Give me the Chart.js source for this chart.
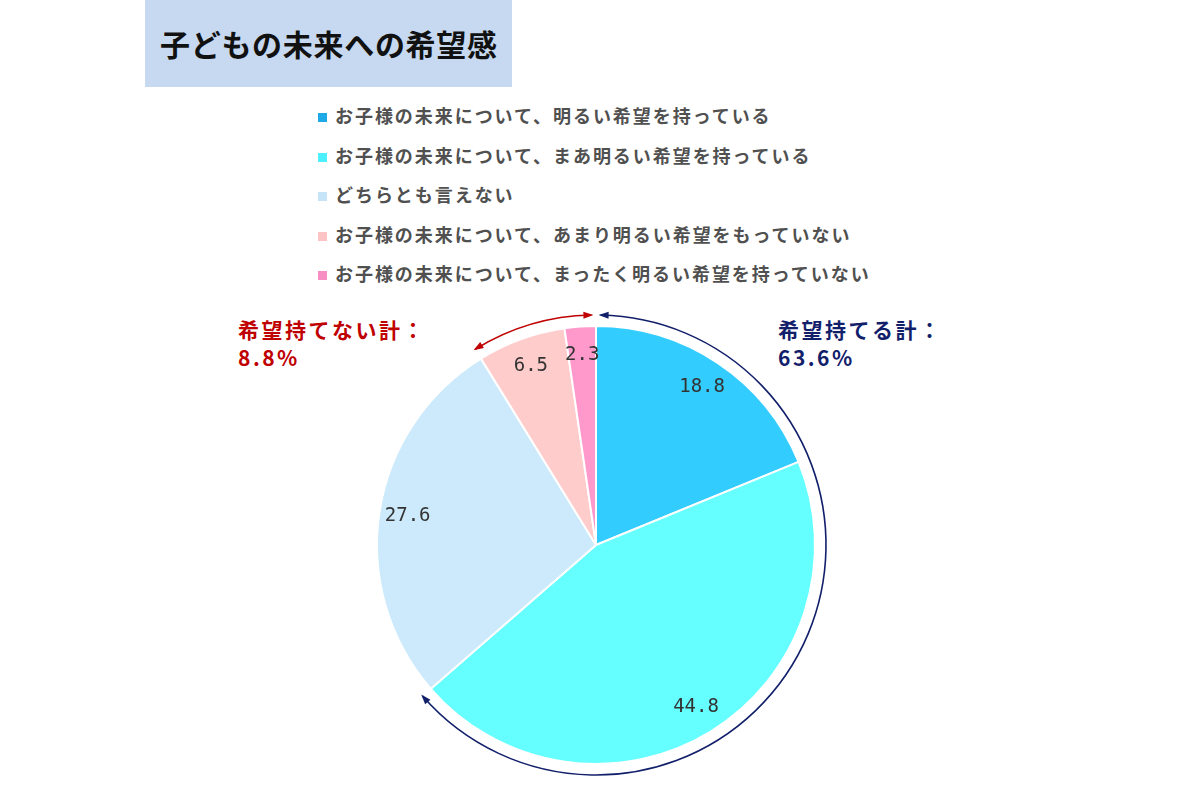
<!DOCTYPE html>
<html>
<head>
<meta charset="utf-8">
<script src="https://cdn.jsdelivr.net/npm/chart.js@4/dist/chart.umd.min.js"></script>
<style>
  html, body { margin: 0; padding: 0; background: #fff; }
  body { width: 1200px; height: 800px; position: relative; overflow: hidden;
         font-family: "Noto Sans CJK JP", "Noto Sans", sans-serif; }
  #wrap { position: absolute; left: 0; top: 0; width: 1200px; height: 800px; }
  .title { position: absolute; left: 145px; top: 0; width: 367px; height: 87px; background: #c6d9f0;
           font-size: 30px; font-weight: bold; color: #111; line-height: 87px; padding-left: 15px;
           letter-spacing: 0.7px; box-sizing: border-box; }
  .legend { position: absolute; left: 318px; top: 102px; }
  .legend div { height: 39.5px; line-height: 26px; font-size: 18px; font-weight: bold; color: #505050;
                white-space: nowrap; letter-spacing: 1.95px; }
  .legend span { display: inline-block; width: 9px; height: 9px; margin-right: 8px; vertical-align: 1px; }
  .note { position: absolute; font-size: 21px; font-weight: bold; line-height: 28px; letter-spacing: 2.5px; }
</style>
</head>
<body>
<div class="title">子どもの未来への希望感</div>
<div class="legend" id="legend"></div>
<div class="note" id="noteNeg" style="left:238px; top:315px; color:#c00000;"></div>
<div class="note" id="notePos" style="left:778px; top:315px; color:#12206b;"></div>
<div id="wrap"><canvas id="c" width="1200" height="800"></canvas></div>
<script>
const labels = [
  "お子様の未来について、明るい希望を持っている",
  "お子様の未来について、まあ明るい希望を持っている",
  "どちらとも言えない",
  "お子様の未来について、あまり明るい希望をもっていない",
  "お子様の未来について、まったく明るい希望を持っていない",
];
const values = [18.8, 44.8, 27.6, 6.5, 2.3];
const colors = ["#33ccff", "#66ffff", "#cceafb", "#ffcccc", "#ff99cc"];
const legendColors = ["#1fa9e6", "#4cf0ff", "#c5e4f8", "#fcc4c4", "#f78ec4"];
const positiveIdx = [0, 1];
const negativeIdx = [3, 4];

const sumOf = (idx) => idx.reduce((s, i) => s + values[i], 0);
const posTotal = sumOf(positiveIdx).toFixed(1);
const negTotal = sumOf(negativeIdx).toFixed(1);

// html legend and side notes
const legendEl = document.getElementById("legend");
labels.forEach((lb, i) => {
  const row = document.createElement("div");
  row.innerHTML = `<span style="background:${legendColors[i]}"></span>${lb}`;
  legendEl.appendChild(row);
});
document.getElementById("noteNeg").innerHTML = `希望持てない計：<br>${negTotal}%`;
document.getElementById("notePos").innerHTML = `希望持てる計：<br>${posTotal}%`;

const sliceLabels = {
  id: "sliceLabels",
  afterDatasetsDraw(chart) {
    const { ctx } = chart;
    const meta = chart.getDatasetMeta(0);
    ctx.save();
    ctx.font = '19px "DejaVu Sans Mono", monospace';
    ctx.fillStyle = "#333";
    ctx.textAlign = "center";
    ctx.textBaseline = "middle";
    meta.data.forEach((arc, i) => {
      const mid = (arc.startAngle + arc.endAngle) / 2;
      const rr = arc.outerRadius * 0.87;
      ctx.fillText(values[i].toFixed(1), arc.x + Math.cos(mid) * rr, arc.y + Math.sin(mid) * rr);
    });
    ctx.restore();
  },
};

function arrowHead(ctx, x, y, dx, dy, color) {
  const len = 8, w = 3.5;
  const nx = -dy, ny = dx;
  ctx.fillStyle = color;
  ctx.beginPath();
  ctx.moveTo(x + dx * 2, y + dy * 2);
  ctx.lineTo(x - dx * len + nx * w, y - dy * len + ny * w);
  ctx.lineTo(x - dx * len - nx * w, y - dy * len - ny * w);
  ctx.closePath();
  ctx.fill();
}

function drawBracket(ctx, cx, cy, r, a0, a1, color) {
  ctx.strokeStyle = color;
  ctx.lineWidth = 1.6;
  ctx.beginPath();
  ctx.arc(cx, cy, r, a0, a1);
  ctx.stroke();
  // heads at both ends, pointing outward along the arc
  arrowHead(ctx, cx + Math.cos(a0) * r, cy + Math.sin(a0) * r, Math.sin(a0), -Math.cos(a0), color);
  arrowHead(ctx, cx + Math.cos(a1) * r, cy + Math.sin(a1) * r, -Math.sin(a1), Math.cos(a1), color);
}

const brackets = {
  id: "brackets",
  afterDraw(chart) {
    const { ctx } = chart;
    const arcs = chart.getDatasetMeta(0).data;
    const cx = arcs[0].x, cy = arcs[0].y, r = arcs[0].outerRadius + 11;
    ctx.save();
    drawBracket(ctx, cx, cy, r, arcs[positiveIdx[0]].startAngle + 0.02,
      arcs[positiveIdx[positiveIdx.length - 1]].endAngle, "#12206b");
    drawBracket(ctx, cx, cy, r, arcs[negativeIdx[0]].startAngle,
      arcs[negativeIdx[negativeIdx.length - 1]].endAngle - 0.02, "#c00000");
    ctx.restore();
  },
};

new Chart(document.getElementById("c"), {
  type: "pie",
  data: {
    labels,
    datasets: [{ data: values, backgroundColor: colors, borderColor: "#fff", borderWidth: 2 }],
  },
  options: {
    responsive: false,
    animation: false,
    layout: { padding: { left: 376, right: 384, top: 325, bottom: 35 } },
    plugins: { legend: { display: false }, tooltip: { enabled: false } },
  },
  plugins: [sliceLabels, brackets],
});
</script>
</body>
</html>
